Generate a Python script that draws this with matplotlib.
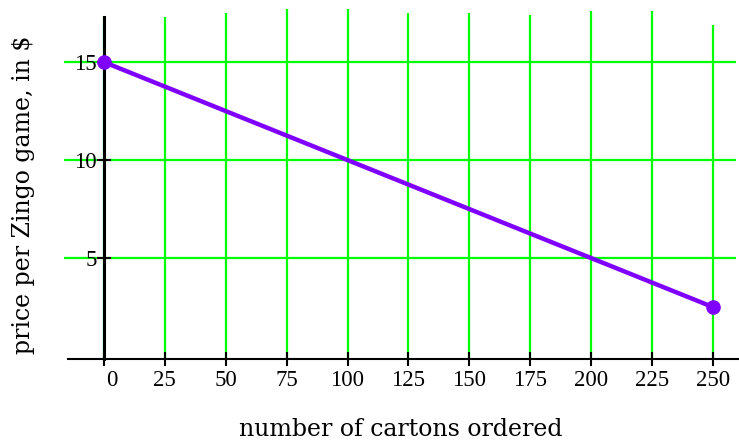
import numpy as np
import matplotlib
matplotlib.use("Agg")
from matplotlib import pyplot as plt
from matplotlib.transforms import ScaledTranslation

# data
cartons = [0, 250]
price = [15, 2.5]

x_ticks = [0, 25, 50, 75, 100, 125, 150, 175, 200, 225, 250]
y_ticks = [5, 10, 15]
# the vertical grid lines stop at slightly different heights in the original
grid_tops = [17.3, 17.3, 17.5, 17.7, 17.7, 17.5, 17.5, 17.4, 17.6, 17.6, 16.9]

green = "#00ff00"
purple = "#8000ff"
tick_font = "Liberation Serif"
label_font = "DejaVu Serif"

fig = plt.figure(figsize=(7.39, 4.45), dpi=100)
ax = fig.add_axes([64 / 739, (445 - 359) / 445, 675 / 739, (359 - 8) / 445])
ax.set_xlim(-16.4, 260.7)
ax.set_ylim(-0.15, 17.76)

# grid
ax.hlines(y_ticks, -16.4, 259.4, color=green, lw=1.6, zorder=1)
ax.vlines(x_ticks, -0.15, grid_tops, color=green, lw=1.6, zorder=1)

# axes lines
for side in ["top", "right"]:
    ax.spines[side].set_visible(False)
ax.spines["bottom"].set_bounds(-14.8, 260.7)
ax.spines["bottom"].set_linewidth(1.5)
ax.spines["left"].set_position(("data", 0))
ax.spines["left"].set_bounds(-0.15, 17.3)
ax.spines["left"].set_linewidth(2.2)

ax.plot(cartons, price, color=purple, lw=3.2, marker="o", ms=9.5,
        zorder=3, clip_on=False)

ax.set_xticks(x_ticks)
ax.set_xticklabels([str(v) for v in x_ticks], family=tick_font, fontsize=16.5)
ax.set_yticks(y_ticks)
ax.set_yticklabels([str(v) for v in y_ticks], family=tick_font, fontsize=16.5)
ax.tick_params(axis="x", direction="inout", length=10, width=1.5, pad=3)
ax.tick_params(axis="y", direction="inout", length=10, width=1.5, pad=0)

# the "0" label sits a little to the right of the y axis
lbl0 = ax.get_xticklabels()[0]
lbl0.set_transform(lbl0.get_transform() + ScaledTranslation(8 / 100, 0, fig.dpi_scale_trans))

fig.text(401 / 739, 1 - 430 / 445, "number of cartons ordered",
         family=label_font, fontsize=17, ha="center", va="center")
fig.text(24 / 739, 1 - 195 / 445, "price per Zingo game, in $",
         family=label_font, fontsize=17, ha="center", va="center", rotation=90)

fig.savefig("out.png", dpi=100)
